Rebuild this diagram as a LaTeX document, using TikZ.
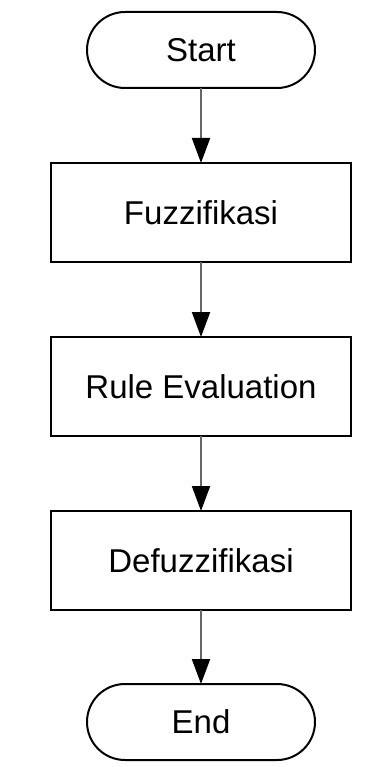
\documentclass[tikz,border=0pt]{standalone}
\usepackage{fontspec}
\setmainfont{Liberation Sans}
\usetikzlibrary{arrows.meta,positioning}

\begin{document}
\begin{tikzpicture}[font=\fontsize{33pt}{40pt}\selectfont,
terminal/.style={draw,line width=2pt,rounded corners=38pt,minimum width=228pt,minimum height=76pt,outer sep=0pt},
process/.style={draw,line width=2.2pt,minimum width=300pt,minimum height=99pt,outer sep=0pt},
arr/.style={draw=black!60,line width=2pt,-{Triangle[length=25pt,width=18pt,black]}}]
\useasboundingbox (0,0) rectangle (369pt,-767pt);
\node[terminal] (start) at (201pt,-50pt) {Start};
\node[process,below=75pt of start] (fuzz) {Fuzzifikasi};
\node[process,below=75pt of fuzz] (rule) {Rule Evaluation};
\node[process,below=75pt of rule] (defuzz) {Defuzzifikasi};
\node[terminal,below=74pt of defuzz] (end) {End};
\draw[arr] (start)--(fuzz);
\draw[arr] (fuzz)--(rule);
\draw[arr] (rule)--(defuzz);
\draw[arr] (defuzz)--(end);
\end{tikzpicture}
\end{document}
